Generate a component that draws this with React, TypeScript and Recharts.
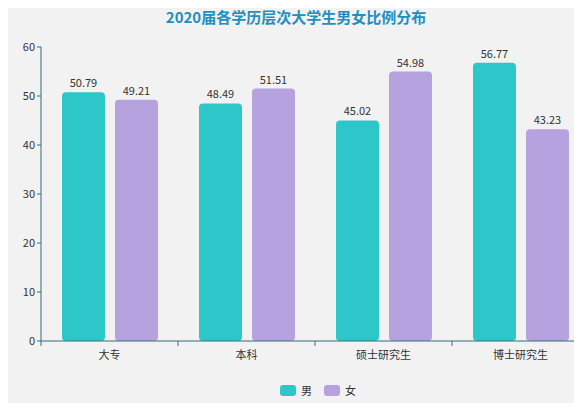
import { Bar, BarChart, LabelList, XAxis, YAxis } from "recharts";

const categories = ["大专", "本科", "硕士研究生", "博士研究生"];
const maleValues = [50.79, 48.49, 45.02, 56.77];
const femaleValues = [49.21, 51.51, 54.98, 43.23];
const yTicks = [0, 10, 20, 30, 40, 50, 60];
const seriesNames = ["男", "女"];

const colors = { male: "#2ec7c9", female: "#b6a2de", axis: "#2f6f7a", text: "#333", title: "#1f8fc0" };
const font = "'Noto Sans CJK SC', 'Noto Sans', sans-serif";

const data = categories.map((name, i) => ({ name, 男: maleValues[i], 女: femaleValues[i] }));

function CategoryTick(props: any) {
  const { x, y, payload } = props;
  const half = payload?.offset ?? 0;
  return (
    <g>
      <line x1={x - half} x2={x - half} y1={y - 8} y2={y - 3} stroke={colors.axis} />
      <text x={x} y={y + 10} textAnchor="middle" fontSize={11} fill={colors.text} fontFamily={font}>
        {payload.value}
      </text>
    </g>
  );
}

function ChartLegend() {
  const swatches = [colors.male, colors.female];
  return (
    <div
      style={{
        position: "absolute",
        top: 382,
        left: 0,
        width: 636,
        display: "flex",
        justifyContent: "center",
        gap: 12,
        fontFamily: font,
        fontSize: 11,
        color: colors.text,
      }}
    >
      {seriesNames.map((label, i) => (
        <div key={label} style={{ display: "flex", alignItems: "center", gap: 5 }}>
          <span style={{ width: 16, height: 11, borderRadius: 3, background: swatches[i], display: "inline-block" }} />
          <span>{label}</span>
        </div>
      ))}
    </div>
  );
}

export default function App() {
  return (
    <div style={{ margin: -8, width: 582, height: 411, overflow: "hidden", position: "relative", background: "#f2f2f2" }}>
      <div
        style={{
          position: "absolute",
          top: 6,
          left: 0,
          width: 592,
          textAlign: "center",
          fontFamily: font,
          fontWeight: 700,
          fontSize: 15,
          color: colors.title,
        }}
      >
        2020届各学历层次大学生男女比例分布
      </div>
      <BarChart
        width={600}
        height={411}
        data={data}
        margin={{ top: 47, right: 11, bottom: 40, left: 10 }}
        barCategoryGap={21}
        barGap={10}
      >
        <XAxis
          dataKey="name"
          height={30}
          tickLine={false}
          axisLine={{ stroke: colors.axis }}
          tick={<CategoryTick />}
          interval={0}
        />
        <YAxis
          width={31}
          domain={[0, 60]}
          ticks={yTicks}
          interval={0}
          tick={{ fontSize: 11, fill: colors.text, fontFamily: font }}
          tickSize={4}
          tickLine={{ stroke: colors.axis }}
          axisLine={{ stroke: colors.axis }}
        />
        <Bar dataKey="男" fill={colors.male} radius={4} isAnimationActive={false}>
          <LabelList dataKey="男" position="top" offset={5} fontSize={11} fill={colors.text} fontFamily={font} />
        </Bar>
        <Bar dataKey="女" fill={colors.female} radius={4} isAnimationActive={false}>
          <LabelList dataKey="女" position="top" offset={5} fontSize={11} fill={colors.text} fontFamily={font} />
        </Bar>
      </BarChart>
      <ChartLegend />
    </div>
  );
}
